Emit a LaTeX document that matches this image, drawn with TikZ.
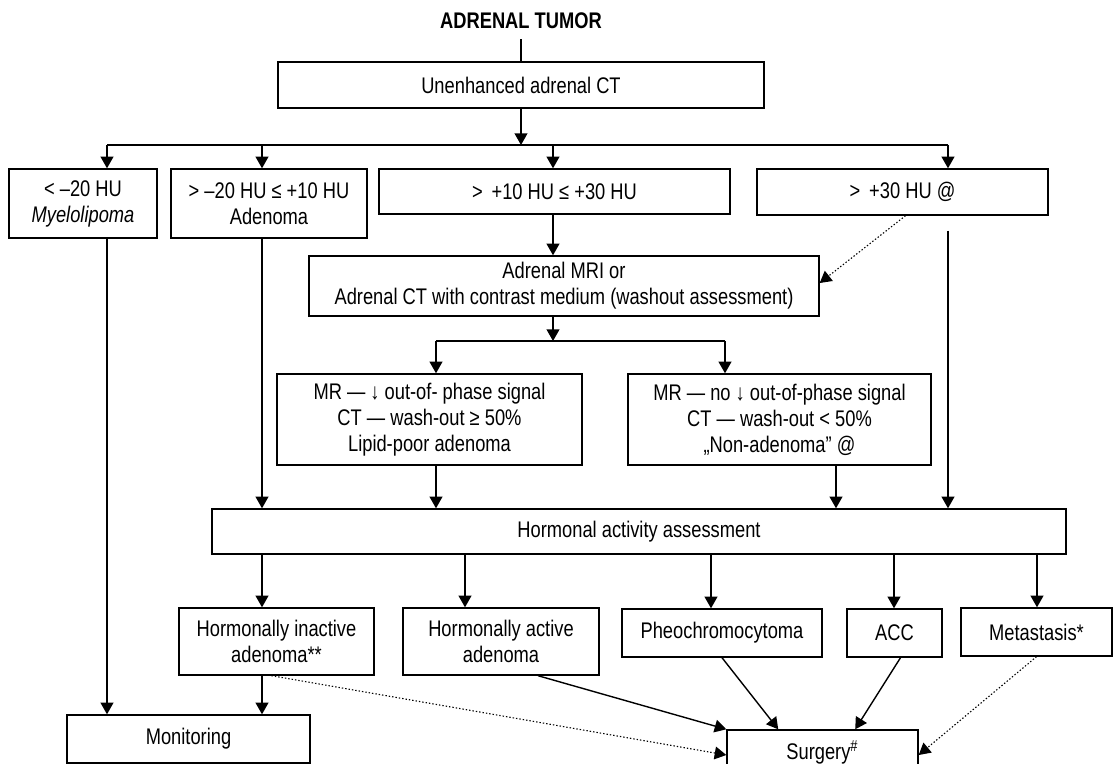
\documentclass[tikz,border=0pt]{standalone}
\usepackage{fontspec}
\setmainfont{Liberation Sans}[FakeStretch=0.81]
\usetikzlibrary{arrows.meta,fit,calc}
\begin{document}
\begin{tikzpicture}[x=0.5pt,y=-0.5pt,
  font=\fontsize{11.3}{13}\selectfont,
  box/.style={draw, line width=0.7pt, inner sep=0pt, align=center},
  txt/.style={align=center},
  arr/.style={-{Triangle[length=5.8pt,width=6.4pt]}, line width=0.7pt},
  dotarr/.style={arr, densely dotted, line width=0.55pt},
  plain/.style={line width=0.7pt}]
\path[use as bounding box] (0,0) rectangle (1114,764);
\clip (0,0) rectangle (1114,764);
% nodes
\node[font=\fontsize{11.3}{13}\selectfont\bfseries] (title) at (521,21) {ADRENAL TUMOR};
\node[box, fit={(278,62) (764,108)}] (ct) {};
\node[txt] at (ct.center) {Unenhanced adrenal CT};
\node[box, fit={(9,169) (157,238)}] (b1) {};
\node[txt] at (b1.center) {< –20 HU\\\textit{Myelolipoma}};
\node[box, fit={(171,169) (367,238)}] (b2) {};
\node[txt] at (b2.center) {> –20 HU ≤ +10 HU\\Adenoma};
\node[box, fit={(379,169) (730,214)}] (b3) {};
\node[txt] at (b3.center) {> \,+10 HU ≤ +30 HU};
\node[box, fit={(757,169) (1048,215)}] (b4) {};
\node[txt] at (b4.center) {> \,+30 HU @};
\node[box, fit={(309,256) (819,316)}] (mri) {};
\node[txt] at (mri.center) {Adrenal MRI or\\Adrenal CT with contrast medium (washout assessment)};
\node[box, fit={(277,374) (582,465)}] (mrL) {};
\node[txt] at (mrL.center) {MR — ↓ out-of- phase signal\\CT — wash-out ≥ 50\%\\Lipid-poor adenoma};
\node[box, fit={(628,374) (931,465)}] (mrR) {};
\node[txt] at (mrR.center) {MR — no ↓ out-of-phase signal\\CT — wash-out < 50\%\\„Non-adenoma” @};
\node[box, fit={(212,509) (1066,554)}] (haa) {};
\node[txt] at (haa.center) {Hormonal activity assessment};
\node[box, fit={(179,608) (374,675)}] (inact) {};
\node[txt] at (inact.center) {Hormonally inactive\\adenoma**};
\node[box, fit={(403,608) (599,675)}] (act) {};
\node[txt] at (act.center) {Hormonally active\\adenoma};
\node[box, fit={(622,609) (822,657)}] (pheo) {};
\node[txt] at (pheo.center) {Pheochromocytoma};
\node[box, fit={(847,609) (942,657)}] (acc) {};
\node[txt] at (acc.center) {ACC};
\node[box, fit={(961,608) (1112,656)}] (meta) {};
\node[txt] at (meta.center) {Metastasis*};
\node[box, fit={(67,715) (310,763)}] (mon) {};
\node[txt] at (mon.center) {Monitoring};
\node[box, fit={(727,730) (918,780)}] (surg) {};
\node[txt] at ($(surg.center)+(0,-3)$) {Surgery\textsuperscript{\#}};
% helper coordinates
\coordinate (c1) at (107,145);
\coordinate (c2) at (262,145);
\coordinate (c3) at (553,145);
\coordinate (c4) at (948,145);
\coordinate (m1) at (436,341);
\coordinate (m2) at (725,341);
\coordinate (k1) at (836,341);
\coordinate (d1) at (262,554);
\coordinate (d2) at (465,554);
\coordinate (d3) at (711,554);
\coordinate (d4) at (894,554);
\coordinate (d5) at (1037,554);
% connectors
\draw[plain, shorten <=1.5pt] (title) -- (ct.north);
\draw[arr] (ct.south) -- (ct.south |- c1);
\draw[plain] (c1) -- (c4);
\draw[arr] (c1) -- (c1 |- b1.north);
\draw[arr] (c2) -- (c2 |- b2.north);
\draw[arr] (c3) -- (c3 |- b3.north);
\draw[arr] (c4) -- (c4 |- b4.north);
\draw[arr] (b3.south -| c3) -- (c3 |- mri.north);
\draw[dotarr] ($(b4.south)+(3,0)$) -- ($(mri.east)+(0,-3)$);
\draw[arr] (mri.south -| c3) -- (c3 |- m1);
\draw[plain] (m1) -- (m2);
\draw[arr] (m1) -- (m1 |- mrL.north);
\draw[arr] (m2) -- (m2 |- mrR.north);
\draw[arr] (mrL.south -| m1) -- (m1 |- haa.north);
\draw[arr] (mrR.south -| k1) -- (k1 |- haa.north);
\draw[arr, shorten <=7.5pt] (b4.south -| c4) -- (c4 |- haa.north);
\draw[arr] (b2.south -| c2) -- (c2 |- haa.north);
\draw[arr] (b1.south -| c1) -- (c1 |- mon.north);
\draw[arr] (haa.south -| d1) -- (d1 |- inact.north);
\draw[arr] (haa.south -| d2) -- (d2 |- act.north);
\draw[arr] (haa.south -| d3) -- (d3 |- pheo.north);
\draw[arr] (haa.south -| d4) -- (d4 |- acc.north);
\draw[arr] (haa.south -| d5) -- (d5 |- meta.north);
\draw[arr] (inact.south -| d1) -- (d1 |- mon.north);
\draw[arr] ($(act.south)+(37,0)$) -- (surg.north west);
\draw[dotarr] ($(inact.south)+(-5,0)$) -- (surg.west);
\draw[arr] (pheo.south) -- ($(surg.north west)!0.27!(surg.north east)$);
\draw[arr] ($(acc.south)+(6,0)$) -- ($(surg.north west)!0.67!(surg.north east)$);
\draw[dotarr] (meta.south) -- (surg.east);
\end{tikzpicture}
\end{document}
